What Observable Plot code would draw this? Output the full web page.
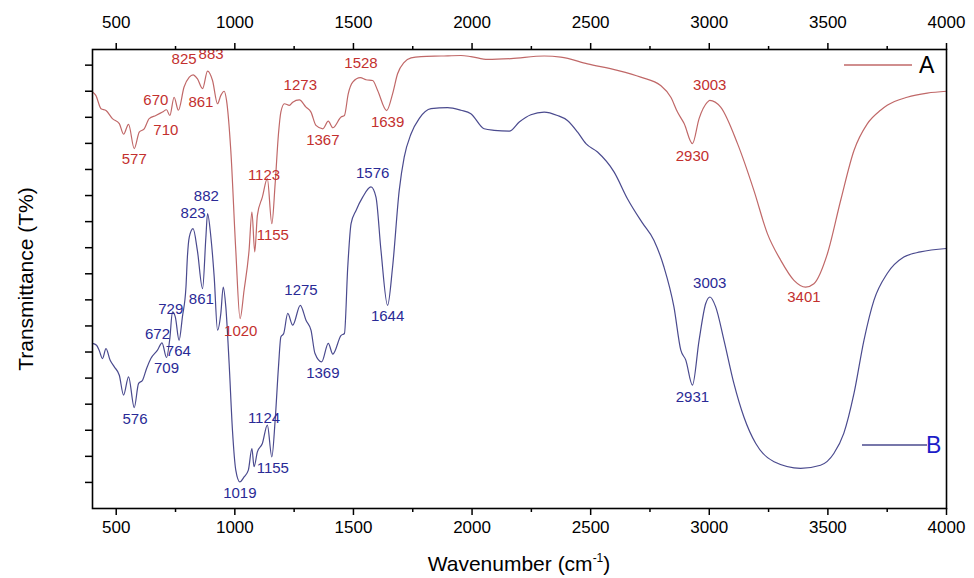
<!DOCTYPE html>
<html>
<head>
<meta charset="utf-8">
<script src="https://cdn.jsdelivr.net/npm/d3@7"></script>
<script src="https://cdn.jsdelivr.net/npm/@observablehq/plot@0.6"></script>
<style>
  body { margin: 0; background: #fff; font-family: "Liberation Sans", Arial, sans-serif; }
  #wrap { position: relative; width: 974px; height: 578px; overflow: hidden; }
  #xtitle { position: absolute; left: 92px; width: 854px; top: 552px; text-align: center; font-size: 21px; color: #000; line-height: 24px; }
  #xtitle sup { font-size: 12px; vertical-align: 9px; line-height: 0; }
  #legend { position: absolute; left: 0; top: 0; pointer-events: none; }
</style>
</head>
<body>
<div id="wrap">
  <div id="chart"></div>
  <div id="xtitle">Wavenumber (cm<sup>-1</sup>)</div>
</div>
<script>
// ---- data: [wavenumber (cm-1), transmittance (arbitrary offset units)] ----
const seriesA = [
  [400,15.97],[414,15.84],[436,15.33],[457,15.26],[484,14.95],[513,14.76],[531,14.35],[552,14.73],[576,13.80],[597,14.43],
  [618,14.56],[639,14.95],[667,15.07],[695,15.20],[712,15.29],[726,15.07],[744,15.77],[762,15.27],[786,16.16],[808,16.54],
  [824,16.63],[842,16.48],[864,16.10],[885,16.77],[906,16.41],[927,15.52],[941,15.84],[955,16.00],[965,15.65],[983,13.73],
  [1004,9.90],[1022,7.28],[1039,8.37],[1060,9.90],[1072,11.37],[1084,9.84],[1095,11.24],[1116,11.94],[1137,12.65],[1156,10.92],
  [1170,12.46],[1184,14.37],[1194,15.20],[1209,15.52],[1230,15.46],[1244,15.58],[1272,15.67],[1300,15.39],[1321,15.20],[1342,14.69],
  [1371,14.56],[1394,14.85],[1413,14.60],[1448,15.01],[1462,15.07],[1478,15.90],[1497,16.35],[1529,16.52],[1553,16.44],[1581,16.41],
  [1602,16.03],[1640,15.26],[1665,15.90],[1686,16.67],[1714,17.11],[1743,17.28],[1785,17.33],[1870,17.35],[1953,17.37],[1995,17.33],
  [2066,17.22],[2164,17.25],[2304,17.35],[2374,17.31],[2487,17.05],[2613,16.80],[2711,16.54],[2795,16.22],[2838,15.77],[2866,15.20],
  [2894,14.76],[2929,13.99],[2957,14.95],[2992,15.58],[3002,15.65],[3048,15.39],[3119,13.99],[3188,12.20],[3245,10.54],[3301,9.52],
  [3357,8.75],[3406,8.49],[3441,8.62],[3498,9.77],[3554,11.82],[3610,13.73],[3666,14.75],[3722,15.27],[3750,15.46],[3834,15.77],
  [3919,15.93],[4000,16.00]
];
const seriesB = [
  [400,6.33],[417,6.26],[428,6.07],[442,5.75],[457,6.13],[474,5.69],[492,5.43],[513,5.11],[531,4.35],[552,5.05],
  [576,3.87],[594,4.79],[611,4.92],[628,5.37],[646,5.75],[674,6.07],[693,6.35],[712,5.79],[726,6.52],[737,7.54],
  [749,7.35],[765,6.45],[779,7.35],[794,8.49],[800,9.64],[808,10.41],[824,10.73],[842,9.90],[864,8.43],[878,10.41],
  [885,11.31],[899,10.41],[913,8.88],[927,6.84],[941,7.48],[951,8.49],[962,7.73],[976,5.56],[990,3.00],[1004,1.47],
  [1021,1.02],[1039,1.21],[1057,1.47],[1072,2.30],[1081,1.60],[1095,2.17],[1116,2.49],[1137,3.20],[1156,1.98],[1170,3.39],
  [1184,5.43],[1194,6.58],[1206,6.71],[1223,7.48],[1244,7.03],[1276,7.79],[1300,7.22],[1321,6.84],[1338,5.94],[1366,5.62],
  [1394,6.33],[1413,5.92],[1448,6.64],[1462,6.71],[1476,9.26],[1490,10.92],[1511,11.43],[1539,11.94],[1574,12.33],[1595,11.94],
  [1616,9.90],[1644,7.79],[1665,9.26],[1693,12.20],[1714,13.47],[1743,14.37],[1777,14.95],[1827,15.33],[1897,15.37],[1953,15.27],
  [1995,15.14],[2051,14.56],[2093,14.50],[2157,14.47],[2199,14.82],[2248,15.10],[2304,15.20],[2360,15.07],[2402,14.88],[2445,14.43],
  [2480,13.99],[2529,13.67],[2599,12.90],[2655,11.88],[2718,10.95],[2767,10.28],[2809,9.26],[2851,7.73],[2880,6.07],[2901,5.69],
  [2929,4.73],[2957,6.45],[2985,7.86],[3003,8.11],[3027,7.73],[3062,6.45],[3104,4.79],[3146,3.51],[3196,2.49],[3273,1.79],
  [3385,1.54],[3469,1.66],[3525,2.11],[3567,2.88],[3610,4.41],[3652,6.45],[3694,7.98],[3750,9.01],[3820,9.64],[3890,9.84],
  [4000,9.97]
];
// peak labels: [text, wavenumber position, transmittance position]
const labelsA = [
  ["577",576,13.39],["670",667,15.65],["710",709,14.52],["825",786,17.22],["883",900,17.42],["861",857,15.58],
  ["1020",1025,6.81],["1123",1123,12.77],["1155",1160,10.47],["1273",1276,16.25],["1367",1371,14.14],
  ["1528",1532,17.08],["1639",1644,14.82],["2930",2929,13.51],["3003",3002,16.22],["3401",3399,8.09]
];
const labelsB = [
  ["576",579,3.41],["672",674,6.68],["709",712,5.37],["729",730,7.63],["764",762,6.04],["823",824,11.31],
  ["882",880,11.97],["861",859,8.01],["1019",1021,0.60],["1124",1123,3.45],["1155",1160,1.54],["1275",1279,8.37],
  ["1369",1371,5.18],["1576",1581,12.86],["1644",1644,7.37],["2931",2929,4.26],["3003",3002,8.65]
];
const xMajorTicks = [500,1000,1500,2000,2500,3000,3500,4000];
const xMinorTicks = [750,1250,1750,2250,2750,3250,3750];
const yTicks = [1,2,3,4,5,6,7,8,9,10,11,12,13,14,15,16,17];
const seriesNames = ["A","B"];
const lineColors = ["#c06868","#4a4a8e"];
const labelColors = ["#c3302e","#2a2a96"];
const legendTextColors = ["#000000","#1c1cc8"];

const font = "'Liberation Sans', Arial, sans-serif";
const fmt = d => String(d);
const chart = Plot.plot({
  width: 974, height: 545,
  marginLeft: 92, marginRight: 28, marginTop: 49, marginBottom: 37,
  style: {fontFamily: font, fontSize: "16px", background: "#fff", color: "#000", overflow: "visible"},
  x: {domain: [400, 4000]},
  y: {domain: [0, 17.6]},
  marks: [
    Plot.axisX(xMajorTicks, {anchor: "bottom", tickSize: 7, tickPadding: 5, strokeWidth: 1.5, tickFormat: fmt, label: null, fontSize: 17}),
    Plot.axisX(xMajorTicks, {anchor: "top", tickSize: 7, tickPadding: 15, strokeWidth: 1.5, tickFormat: fmt, label: null, fontSize: 17}),
    Plot.axisX(xMinorTicks, {anchor: "bottom", tickSize: 4, strokeWidth: 1.5, tickFormat: () => "", label: null}),
    Plot.axisX(xMinorTicks, {anchor: "top", tickSize: 4, strokeWidth: 1.5, tickFormat: () => "", label: null}),
    Plot.axisY(yTicks, {anchor: "left", tickSize: 7, strokeWidth: 1.5, tickFormat: () => "",
      label: "Transmittance (T%)", labelArrow: "none", labelAnchor: "center", labelOffset: 74, fontSize: 21}),
    Plot.line(seriesA, {x: d => d[0], y: d => d[1], stroke: lineColors[0], strokeWidth: 1.2, curve: "monotone-x"}),
    Plot.line(seriesB, {x: d => d[0], y: d => d[1], stroke: lineColors[1], strokeWidth: 1.2, curve: "monotone-x"}),
    Plot.text(labelsA, {x: d => d[1], y: d => d[2], text: d => d[0], fill: labelColors[0], fontSize: 15}),
    Plot.text(labelsB, {x: d => d[1], y: d => d[2], text: d => d[0], fill: labelColors[1], fontSize: 15}),
    Plot.frame({stroke: "#000", strokeWidth: 1.6})
  ]
});
document.getElementById("chart").appendChild(chart);

// legend overlay (series key drawn inside the frame, top and lower right)
const legendRows = [
  {x1: 844, x2: 912, y: 65, tx: 919},
  {x1: 862, x2: 927, y: 445, tx: 926}
];
const ns = "http://www.w3.org/2000/svg";
const lg = document.createElementNS(ns, "svg");
lg.setAttribute("id", "legend"); lg.setAttribute("width", 974); lg.setAttribute("height", 578);
seriesNames.forEach((name, i) => {
  const r = legendRows[i];
  const ln = document.createElementNS(ns, "line");
  ln.setAttribute("x1", r.x1); ln.setAttribute("x2", r.x2); ln.setAttribute("y1", r.y); ln.setAttribute("y2", r.y);
  ln.setAttribute("stroke", lineColors[i]); ln.setAttribute("stroke-width", 1.3);
  lg.appendChild(ln);
  const t = document.createElementNS(ns, "text");
  t.setAttribute("x", r.tx); t.setAttribute("y", r.y + 8);
  t.setAttribute("font-family", font); t.setAttribute("font-size", 23);
  t.setAttribute("fill", legendTextColors[i]);
  t.textContent = name;
  lg.appendChild(t);
});
document.getElementById("wrap").appendChild(lg);
</script>
</body>
</html>
